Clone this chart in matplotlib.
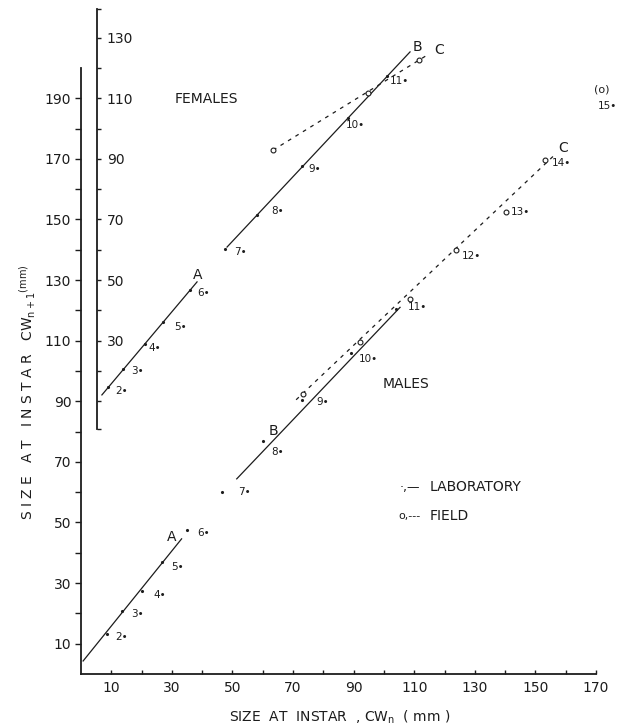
import matplotlib
matplotlib.use("Agg")
import matplotlib.pyplot as plt

plt.rcParams['font.family'] = ['DejaVu Sans']

# ---- data ----
# males, main scale
male_lab_x = [8.6, 13.5, 20, 26.6, 35, 46.5, 60, 73, 89, 104]
male_lab_y = [13.2, 20.8, 27.4, 37, 47.5, 60, 77, 90.5, 106, 120.5]
male_field_x = [73.3, 92.1, 108.6, 123.8, 140.3, 153]
male_field_y = [92.4, 109.6, 123.8, 140, 152.5, 169.6]
male_lineA_x = [0.7, 33.2]
male_lineA_y = [4.3, 44.6]
male_lineB_x = [51.4, 105.3]
male_lineB_y = [64.4, 121]
male_lineC_x = [71, 156]
male_lineC_y = [90.5, 171]
male_instars = ['2', '3', '4', '5', '6', '7', '8', '9', '10', '11', '12', '13', '14', '15']
male_lbl_x = [13.5, 18.5, 26.1, 32, 40.3, 54.1, 65, 79.9, 94.7, 111.2, 129, 144.9, 158.7, 173.6]
male_lbl_y = [12.2, 19.8, 26.1, 35.3, 46.5, 60.1, 73.3, 89.8, 104, 121.1, 138, 152.5, 168.6, 187.5]

# females, female scale (offset 80 against main scale)
fem_offset = 80
fem_lab_x = [9, 14, 21, 27, 36, 47.5, 58, 73, 88, 101]
fem_lab_y = [14.6, 20.5, 28.9, 36, 46.7, 60.4, 71.5, 87.5, 103.5, 117.3]
fem_field_x = [63.4, 94.7, 111.6]
fem_field_y = [92.9, 111.7, 122.6]
fem_lineA_x = [6.9, 38.3]
fem_lineA_y = [12.1, 49.4]
fem_lineB_x = [48.2, 108.6]
fem_lineB_y = [60.9, 125.3]
fem_lineC_x = [63.4, 114.5]
fem_lineC_y = [92.9, 124.4]
fem_instars = ['2', '3', '4', '5', '6', '7', '8', '9', '10', '11']
fem_lbl_x = [13.5, 18.5, 24.4, 32.7, 40.3, 52.5, 65, 77.2, 90.4, 105]
fem_lbl_y = [13.4, 20, 27.6, 34.5, 45.7, 59.3, 72.8, 86.7, 101.2, 115.7]

ink = '#1c1c1c'
dash = (0, (3, 4))

fig = plt.figure(figsize=(6.2, 7.25), dpi=100)
ax = fig.add_axes([81 / 620, 51 / 725, 537.8 / 620, 672.7 / 725])
ax.set_xlim(0, 177.5)
ax.set_ylim(0, 222)
ax2 = ax.twinx()
ax2.set_ylim(0 - fem_offset, 222 - fem_offset)

for s in ['top', 'right']:
    ax.spines[s].set_visible(False)
for s in ['top', 'bottom', 'left']:
    ax2.spines[s].set_visible(False)
ax.spines['left'].set_bounds(0, 200)
ax.spines['bottom'].set_bounds(0, 170)
ax2.spines['right'].set_position(('data', 5.3))
ax2.spines['right'].set_bounds(1, 139.5)
for sp in [ax.spines['left'], ax.spines['bottom'], ax2.spines['right']]:
    sp.set_linewidth(1.3)
    sp.set_color(ink)

xt = list(range(10, 171, 10))
ax.set_xticks(xt)
ax.set_xticklabels([str(v) if (v // 10) % 2 == 1 else '' for v in xt])
yt = list(range(10, 191, 10))
ax.set_yticks(yt)
ax.set_yticklabels([str(v) if (v // 10) % 2 == 1 else '' for v in yt])
ax.tick_params(axis='x', direction='in', length=3, width=1, pad=5, labelsize=10, colors=ink)
ax.tick_params(axis='y', direction='out', length=4, width=1, pad=3, labelsize=10, colors=ink)
ft = [1] + list(range(10, 131, 10)) + [139.5]
ax2.set_yticks(ft)
ax2.set_yticklabels([str(v) if v in (30, 50, 70, 90, 110, 130) else '' for v in ft])
ax2.tick_params(axis='y', direction='out', length=3, width=1, pad=4, labelsize=10, colors=ink)

# males
ax.plot(male_lineA_x, male_lineA_y, color=ink, lw=0.9)
ax.plot(male_lineB_x, male_lineB_y, color=ink, lw=0.9)
ax.plot(male_lineC_x, male_lineC_y, color=ink, lw=0.9, linestyle=dash)
ax.plot(male_lab_x, male_lab_y, linestyle='none', marker='.', ms=2.5, color=ink)
ax.plot(male_field_x, male_field_y, linestyle='none', marker='o', ms=3.5,
        mfc='white', mec=ink, mew=0.8)
for t, x, y in zip(male_instars, male_lbl_x, male_lbl_y):
    ax.text(x, y, t + '\u2022', fontsize=7.5, ha='center', va='center', color=ink)
ax.text(172, 193, '(o)', fontsize=8, ha='center', va='center', color=ink)
ax.text(30, 45.2, 'A', fontsize=10, ha='center', va='center', color=ink)
ax.text(63.4, 80.2, 'B', fontsize=10, ha='center', va='center', color=ink)
ax.text(159.1, 173.5, 'C', fontsize=10, ha='center', va='center', color=ink)
ax.text(99.7, 95.7, 'MALES', fontsize=10, ha='left', va='center', color=ink)

# females
ax2.plot(fem_lineA_x, fem_lineA_y, color=ink, lw=0.9)
ax2.plot(fem_lineB_x, fem_lineB_y, color=ink, lw=0.9)
ax2.plot(fem_lineC_x, fem_lineC_y, color=ink, lw=0.9, linestyle=dash)
ax2.plot(fem_lab_x, fem_lab_y, linestyle='none', marker='.', ms=2.5, color=ink)
ax2.plot(fem_field_x, fem_field_y, linestyle='none', marker='o', ms=3.5,
         mfc='white', mec=ink, mew=0.8)
for t, x, y in zip(fem_instars, fem_lbl_x, fem_lbl_y):
    ax2.text(x, y, t + '\u2022', fontsize=7.5, ha='center', va='center', color=ink)
ax2.text(38.6, 51.7, 'A', fontsize=10, ha='center', va='center', color=ink)
ax2.text(110.9, 127, 'B', fontsize=10, ha='center', va='center', color=ink)
ax2.text(118.2, 126, 'C', fontsize=10, ha='center', va='center', color=ink)
ax.text(31, 189.8, 'FEMALES', fontsize=10, ha='left', va='center', color=ink)

# key
ax.text(112, 61.7, '\u00b7,\u2014', fontsize=9, ha='right', va='center', color=ink)
ax.text(115.2, 61.7, 'LABORATORY', fontsize=10, ha='left', va='center', color=ink)
ax.text(112, 52.1, 'o,---', fontsize=8, ha='right', va='center', color=ink)
ax.text(115.2, 52.1, 'FIELD', fontsize=10, ha='left', va='center', color=ink)

fig.text(340 / 620, 1 - 717 / 725, 'SIZE  AT  INSTAR  , CW$_\\mathregular{n}$  ( mm )',
         fontsize=10, ha='center', va='center', color=ink)
fig.text(28 / 620, 1 - 392 / 725, 'S I Z E   A T   I N S T A R   CW$_\\mathregular{n+1}$$^\\mathregular{(mm)}$',
         fontsize=10, ha='center', va='center', rotation=90, color=ink)

fig.savefig('out.png', dpi=100)
